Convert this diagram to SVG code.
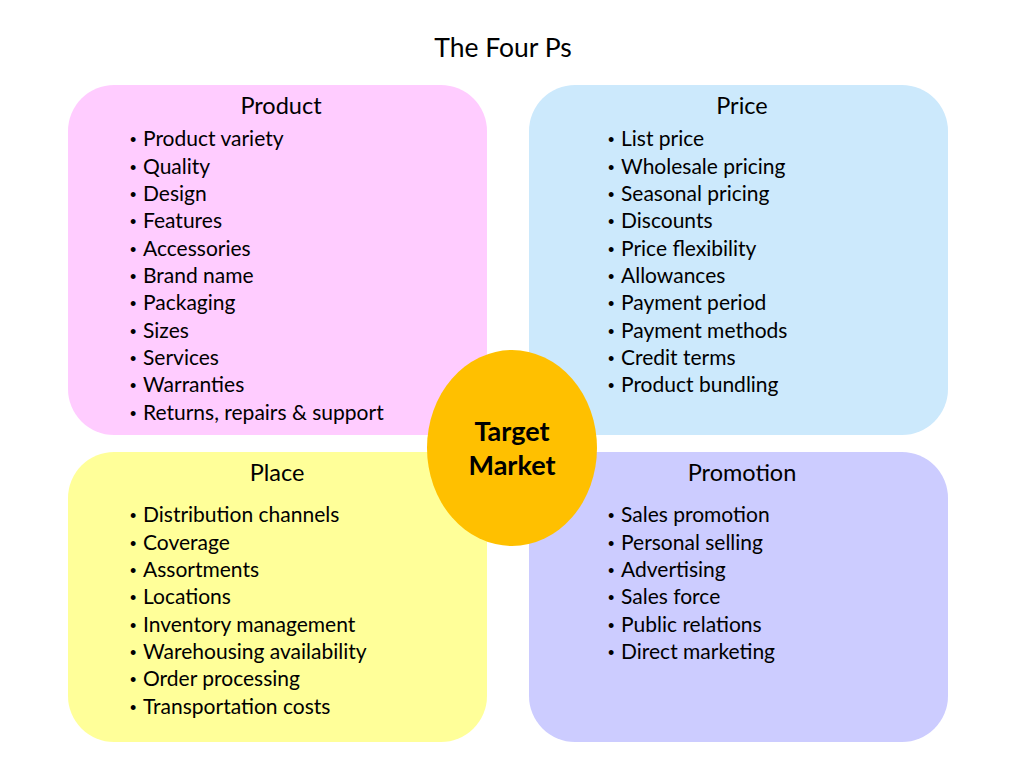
<svg xmlns="http://www.w3.org/2000/svg" width="1024" height="768" viewBox="0 0 1024 768">
<style>
text{font-family:Lato,"Open Sans","Liberation Sans",sans-serif;fill:#000}
.t{font-size:23.5px;text-anchor:middle}
.i{font-size:21px}
.b{font-family:"Liberation Sans",sans-serif;font-size:18px}
.m{font-size:27px;font-weight:bold;text-anchor:middle}
</style>
<rect width="1024" height="768" fill="#fff"/>
<text x="503" y="57" font-size="26.5" text-anchor="middle">The Four Ps</text>
<g id="product">
<rect x="68" y="85" width="419" height="350" rx="46" fill="#FFCCFF"/>
<text class="t" x="281" y="114">Product</text>
<text class="i" y="146"><tspan class="b" x="130">•</tspan><tspan x="143">Product variety</tspan></text>
<text class="i" y="174"><tspan class="b" x="130">•</tspan><tspan x="143">Quality</tspan></text>
<text class="i" y="201"><tspan class="b" x="130">•</tspan><tspan x="143">Design</tspan></text>
<text class="i" y="228"><tspan class="b" x="130">•</tspan><tspan x="143">Features</tspan></text>
<text class="i" y="256"><tspan class="b" x="130">•</tspan><tspan x="143">Accessories</tspan></text>
<text class="i" y="283"><tspan class="b" x="130">•</tspan><tspan x="143">Brand name</tspan></text>
<text class="i" y="310"><tspan class="b" x="130">•</tspan><tspan x="143">Packaging</tspan></text>
<text class="i" y="338"><tspan class="b" x="130">•</tspan><tspan x="143">Sizes</tspan></text>
<text class="i" y="365"><tspan class="b" x="130">•</tspan><tspan x="143">Services</tspan></text>
<text class="i" y="392"><tspan class="b" x="130">•</tspan><tspan x="143">Warranties</tspan></text>
<text class="i" y="420"><tspan class="b" x="130">•</tspan><tspan x="143">Returns, repairs &amp; support</tspan></text>
</g>
<g id="price">
<rect x="529" y="85" width="419" height="350" rx="46" fill="#CCE9FC"/>
<text class="t" x="742" y="114">Price</text>
<text class="i" y="146"><tspan class="b" x="608">•</tspan><tspan x="621">List price</tspan></text>
<text class="i" y="174"><tspan class="b" x="608">•</tspan><tspan x="621">Wholesale pricing</tspan></text>
<text class="i" y="201"><tspan class="b" x="608">•</tspan><tspan x="621">Seasonal pricing</tspan></text>
<text class="i" y="228"><tspan class="b" x="608">•</tspan><tspan x="621">Discounts</tspan></text>
<text class="i" y="256"><tspan class="b" x="608">•</tspan><tspan x="621">Price flexibility</tspan></text>
<text class="i" y="283"><tspan class="b" x="608">•</tspan><tspan x="621">Allowances</tspan></text>
<text class="i" y="310"><tspan class="b" x="608">•</tspan><tspan x="621">Payment period</tspan></text>
<text class="i" y="338"><tspan class="b" x="608">•</tspan><tspan x="621">Payment methods</tspan></text>
<text class="i" y="365"><tspan class="b" x="608">•</tspan><tspan x="621">Credit terms</tspan></text>
<text class="i" y="392"><tspan class="b" x="608">•</tspan><tspan x="621">Product bundling</tspan></text>
</g>
<g id="place">
<rect x="68" y="452" width="419" height="290" rx="46" fill="#FFFF99"/>
<text class="t" x="277" y="481">Place</text>
<text class="i" y="522"><tspan class="b" x="130">•</tspan><tspan x="143">Distribution channels</tspan></text>
<text class="i" y="550"><tspan class="b" x="130">•</tspan><tspan x="143">Coverage</tspan></text>
<text class="i" y="577"><tspan class="b" x="130">•</tspan><tspan x="143">Assortments</tspan></text>
<text class="i" y="604"><tspan class="b" x="130">•</tspan><tspan x="143">Locations</tspan></text>
<text class="i" y="632"><tspan class="b" x="130">•</tspan><tspan x="143">Inventory management</tspan></text>
<text class="i" y="659"><tspan class="b" x="130">•</tspan><tspan x="143">Warehousing availability</tspan></text>
<text class="i" y="686"><tspan class="b" x="130">•</tspan><tspan x="143">Order processing</tspan></text>
<text class="i" y="714"><tspan class="b" x="130">•</tspan><tspan x="143">Transportation costs</tspan></text>
</g>
<g id="promotion">
<rect x="529" y="452" width="419" height="290" rx="46" fill="#CCCCFF"/>
<text class="t" x="742" y="481">Promotion</text>
<text class="i" y="522"><tspan class="b" x="608">•</tspan><tspan x="621">Sales promotion</tspan></text>
<text class="i" y="550"><tspan class="b" x="608">•</tspan><tspan x="621">Personal selling</tspan></text>
<text class="i" y="577"><tspan class="b" x="608">•</tspan><tspan x="621">Advertising</tspan></text>
<text class="i" y="604"><tspan class="b" x="608">•</tspan><tspan x="621">Sales force</tspan></text>
<text class="i" y="632"><tspan class="b" x="608">•</tspan><tspan x="621">Public relations</tspan></text>
<text class="i" y="659"><tspan class="b" x="608">•</tspan><tspan x="621">Direct marketing</tspan></text>
</g>
<g id="target">
<ellipse cx="512" cy="448" rx="85" ry="98" fill="#FFC000"/>
<text class="m" x="512" y="441">Target</text>
<text class="m" x="512" y="475">Market</text>
</g>
<g id="connectors"></g>
</svg>
